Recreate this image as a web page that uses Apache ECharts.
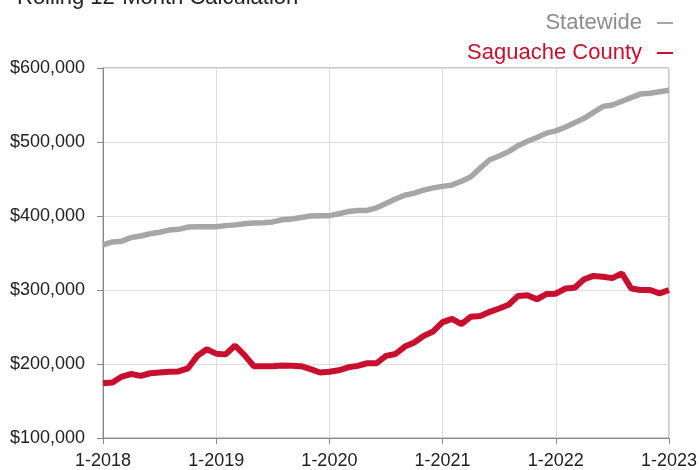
<!DOCTYPE html>
<html>
<head>
<meta charset="utf-8">
<script src="https://cdn.jsdelivr.net/npm/echarts@6/dist/echarts.min.js"></script>
<style>
  html, body { margin: 0; padding: 0; background: #fff; }
  #chart { width: 700px; height: 470px; }
</style>
</head>
<body>
<div id="chart"></div>
<script>
// monthly labels 1-2018 .. 1-2023
const startYear = 2018;
const months = [];
for (let i = 0; i <= 60; i++) {
  months.push((i % 12 + 1) + "-" + (startYear + Math.floor(i / 12)));
}

const statewide = [
  361000, 365000, 366000, 371000, 373000, 376000, 378000, 381000, 382000, 385000,
  385500, 385500, 385500, 387000, 388000, 389500, 390500, 391000, 392000, 395000,
  396000, 398000, 400000, 400500, 400500, 403000, 406000, 407500, 407500, 411000,
  417000, 423000, 428000, 431000, 435000, 438000, 440000, 442000, 447000, 453000,
  465000, 476000, 481000, 487000, 495000, 501000, 506000, 512000, 515000, 520000,
  526000, 532000, 540000, 548000, 550000, 555000, 560000, 565000, 566000, 568000,
  570000
];

const saguache = [
  174000, 175000, 183000, 186500, 184000, 187500, 188500, 189500, 190000, 194000,
  211000, 220000, 214000, 213000, 225000, 212000, 197000, 197000, 197000, 198000,
  197500, 197000, 193000, 188500, 189500, 191500, 195500, 197500, 201000, 201000,
  211000, 213500, 223500, 229000, 238000, 244000, 256500, 261000, 254000, 264000,
  265000, 270500, 275000, 280000, 292000, 293000, 287500, 294500, 295000, 302000,
  303000, 314500, 319000, 318000, 316000, 322500, 302000, 300000, 300000, 295500,
  300000
];

const FONT = "Liberation Sans, Arial, Helvetica, sans-serif";
const RED = "#c8102e";
const GRAY = "#a6a6a6";

const chart = echarts.init(document.getElementById("chart"), null, { renderer: "canvas" });

chart.setOption({
  animation: false,
  textStyle: { fontFamily: FONT },
  title: {
    text: "Rolling 12-Month Calculation",
    left: 12,
    top: -18,
    textStyle: { fontFamily: FONT, fontSize: 22, fontWeight: "normal", color: "#222" }
  },
  legend: {
    orient: "vertical",
    right: 22,
    top: 7,
    align: "right",
    icon: "rect",
    itemWidth: 16,
    itemHeight: 2,
    itemGap: 8,
    textStyle: { fontFamily: FONT, fontSize: 22, padding: [0, 10, 0, 0] },
    data: [
      { name: "Statewide", textStyle: { color: "#8c8c8c" } },
      { name: "Saguache County", textStyle: { color: RED } }
    ]
  },
  grid: {
    left: 103,
    right: 28,
    top: 68,
    bottom: 32,
    show: true,
    borderColor: "#999",
    borderWidth: 1
  },
  xAxis: {
    type: "category",
    data: months,
    boundaryGap: false,
    axisLine: { lineStyle: { color: "#888" } },
    axisTick: { interval: 11, length: 6, lineStyle: { color: "#888" } },
    axisLabel: { interval: 11, margin: 14, fontSize: 18, color: "#222", fontFamily: FONT },
    splitLine: { show: true, interval: 11, lineStyle: { color: "#ddd" } }
  },
  yAxis: {
    type: "value",
    min: 100000,
    max: 600000,
    interval: 100000,
    axisLine: { show: true, lineStyle: { color: "#888" } },
    axisTick: { show: true, length: 6, lineStyle: { color: "#888" } },
    axisLabel: {
      margin: 18,
      fontSize: 18,
      color: "#222",
      fontFamily: FONT,
      formatter: v => "$" + v.toLocaleString("en-US")
    },
    splitLine: { lineStyle: { color: "#ddd" } }
  },
  series: [
    {
      name: "Statewide",
      type: "line",
      data: statewide,
      color: GRAY,
      showSymbol: false,
      lineStyle: { width: 5.5, color: GRAY }
    },
    {
      name: "Saguache County",
      type: "line",
      data: saguache,
      color: RED,
      showSymbol: false,
      lineStyle: { width: 6, color: RED }
    }
  ]
});
</script>
</body>
</html>
